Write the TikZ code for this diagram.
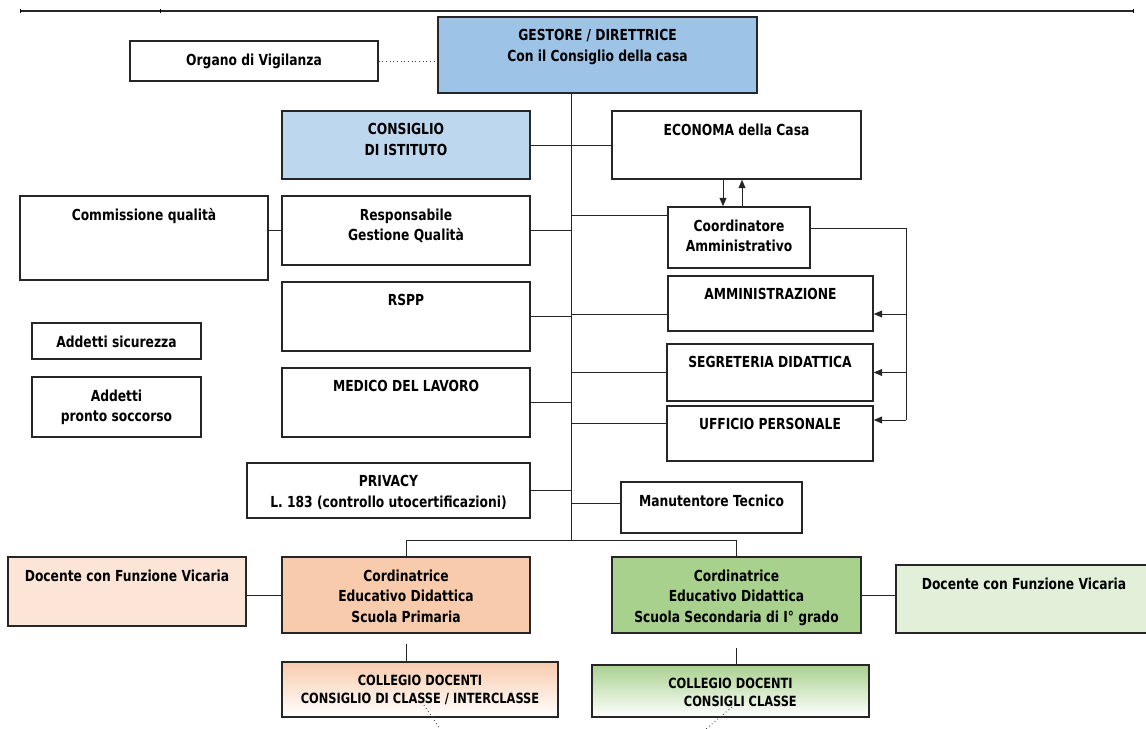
\documentclass[tikz,border=0pt]{standalone}
\usepackage{fontspec}
\newfontfamily\orgfont{DejaVuSansCondensed-Bold.ttf}[FakeStretch=0.9]
\usetikzlibrary{fit,arrows.meta}

\definecolor{gestblue}{HTML}{9DC3E6}
\definecolor{consblue}{HTML}{BDD7EE}
\definecolor{primorange}{HTML}{F8CBAD}
\definecolor{primlight}{HTML}{FCE4D6}
\definecolor{secgreen}{HTML}{A9D18E}
\definecolor{seclight}{HTML}{E2F0D9}

\tikzset{
  orgbox/.style={draw=black!85, line width=1.1pt, inner sep=0pt},
  boxtext/.style={align=center, anchor=north, inner sep=0pt, yshift=-9.3pt,
    font=\orgfont\fontsize{10.8}{14.6}\selectfont},
  colltext/.style={boxtext, font=\orgfont\fontsize{10}{12.8}\selectfont},
  link/.style={draw=black!85, line width=0.6pt},
  vigdot/.style={draw=black!75, line width=0.6pt, dotted},
  toarrow/.style={link, -{Triangle[length=6pt,width=5pt]}},
}

\begin{document}
\begin{tikzpicture}[x=0.025cm, y=-0.025cm]
  \useasboundingbox (0,0) rectangle (1146,729);

  % rule at the top
  \draw[line width=1pt, black!85] (20,11) -- (1133,11);
  \foreach \t in {20,160,1133}
    \draw[line width=0.6pt] (\t,9) -- (\t,13);

  % direction
  \node[orgbox, fill=gestblue, fit={(438,17) (757,93)},
    label={[boxtext]north:{GESTORE / DIRETTRICE\\Con il Consiglio della casa}}] (gestore) {};
  \node[orgbox, fit={(130,41) (378,81)},
    label={[boxtext]north:{Organo di Vigilanza}}] (organo) {};

  % left column
  \node[orgbox, fill=consblue, fit={(282,111) (530,179)},
    label={[boxtext]north:{CONSIGLIO\\DI ISTITUTO}}] (consiglio) {};
  \node[orgbox, fit={(20,196) (268,280)},
    label={[boxtext]north:{Commissione qualità}}] (commissione) {};
  \node[orgbox, fit={(282,196) (530,265)},
    label={[boxtext]north:{Responsabile\\Gestione Qualità}}] (qualita) {};
  \node[orgbox, fit={(282,282) (530,351)},
    label={[boxtext]north:{RSPP}}] (rspp) {};
  \node[orgbox, fit={(32,323) (201,359)},
    label={[boxtext]north:{Addetti sicurezza}}] (sicurezza) {};
  \node[orgbox, fit={(282,368) (530,437)},
    label={[boxtext]north:{MEDICO DEL LAVORO}}] (medico) {};
  \node[orgbox, fit={(32,377) (201,437)},
    label={[boxtext]north:{Addetti\\pronto soccorso}}] (soccorso) {};
  \node[orgbox, fit={(247,463) (530,518)},
    label={[boxtext]north:{PRIVACY\\L. 183 (controllo utocertificazioni)}}] (privacy) {};

  % right column
  \node[orgbox, fit={(612,111) (861,179)},
    label={[boxtext]north:{ECONOMA della Casa}}] (economa) {};
  \node[orgbox, fit={(668,207) (810,268)},
    label={[boxtext]north:{Coordinatore\\Amministrativo}}] (coordamm) {};
  \node[orgbox, fit={(668,276) (873,331)},
    label={[boxtext]north:{AMMINISTRAZIONE}}] (amministrazione) {};
  \node[orgbox, fit={(667,344) (873,401)},
    label={[boxtext]north:{SEGRETERIA DIDATTICA}}] (segreteria) {};
  \node[orgbox, fit={(667,406) (873,461)},
    label={[boxtext]north:{UFFICIO PERSONALE}}] (personale) {};
  \node[orgbox, fit={(621,482) (802,533)},
    label={[boxtext]north:{Manutentore Tecnico}}] (manutentore) {};

  % schools
  \node[orgbox, fill=primlight, fit={(8,557) (246,626)},
    label={[boxtext]north:{Docente con Funzione Vicaria}}] (vicprim) {};
  \node[orgbox, fill=primorange, fit={(282,557) (530,633)},
    label={[boxtext]north:{Cordinatrice\\Educativo Didattica\\Scuola Primaria}}] (primaria) {};
  \node[orgbox, fill=secgreen, fit={(612,557) (861,633)},
    label={[boxtext]north:{Cordinatrice\\Educativo Didattica\\Scuola Secondaria di I° grado}}] (secondaria) {};
  \node[orgbox, fill=seclight, fit={(896,565) (1152,633)},
    label={[boxtext]north:{Docente con Funzione Vicaria}}] (vicsec) {};
  \node[orgbox, line width=0.9pt, top color=primorange, bottom color=white, fit={(282,662) (558,717)},
    label={[colltext]north:{COLLEGIO DOCENTI\\CONSIGLIO DI CLASSE / INTERCLASSE}}] (collprim) {};
  \node[orgbox, line width=0.9pt, top color=secgreen, bottom color=white, fit={(592,665) (869,717)},
    label={[colltext]north:{COLLEGIO DOCENTI\\\hspace*{14pt}CONSIGLI CLASSE}}] (collsec) {};

  % trunk and branches
  \coordinate (trunk) at (571,540);
  \draw[link] (gestore.south -| trunk) -- (trunk);
  \draw[vigdot] (organo.east) -- (organo.east -| gestore.west);
  \foreach \n in {consiglio,qualita,rspp,medico,privacy}
    \draw[link] (\n.east) -- (\n.east -| trunk);
  \draw[link] (commissione.east |- qualita.west) -- (qualita.west);
  \draw[link] (trunk |- economa.west) -- (economa.west);
  \draw[link] (trunk |- 0,215) -- (coordamm.west |- 0,215);
  \draw[link] (trunk |- 0,314) -- (amministrazione.west |- 0,314);
  \draw[link] (trunk |- segreteria.west) -- (segreteria.west);
  \draw[link] (trunk |- 0,423) -- (personale.west |- 0,423);
  \draw[link] (trunk |- 0,503) -- (manutentore.west |- 0,503);

  % economa <-> coordinatore
  \draw[toarrow] (economa.south -| 723,0) -- (coordamm.north -| 723,0);
  \draw[toarrow] (coordamm.north -| 742,0) -- (economa.south -| 742,0);

  % offices bus
  \coordinate (bus) at (906,228);
  \draw[link] (coordamm.east |- bus) -- (bus) -- (bus |- 0,420);
  \draw[toarrow] (bus |- 0,314) -- (amministrazione.east |- 0,314);
  \draw[toarrow] (bus |- segreteria.east) -- (segreteria.east);
  \draw[toarrow] (bus |- 0,420) -- (personale.east |- 0,420);

  % schools
  \draw[link] (primaria.north) -- (primaria.north |- trunk)
    -- (secondaria.north |- trunk) -- (secondaria.north);
  \draw[link] (vicprim.east |- primaria.west) -- (primaria.west);
  \draw[link] (secondaria.east) -- (secondaria.east -| vicsec.west);
  \draw[link, shorten <=7pt] (primaria.south) -- (primaria.south |- collprim.north);
  \draw[link, shorten <=10pt] (secondaria.south) -- (secondaria.south |- collsec.north);

  % dotted leads off the page
  \coordinate (dotpa) at (422,702);
  \coordinate (dotpb) at (440,729);
  \coordinate (dotsa) at (732,707);
  \coordinate (dotsb) at (706,729);
  \draw[vigdot] (dotpa) -- (dotpb);
  \draw[vigdot] (dotsa) -- (dotsb);
\end{tikzpicture}
\end{document}
